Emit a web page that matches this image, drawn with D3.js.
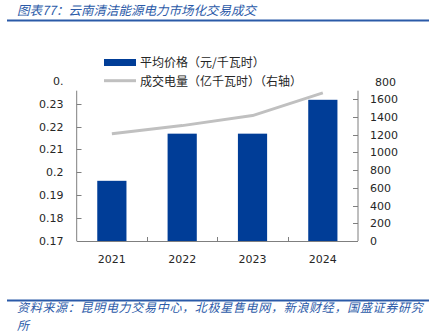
<!DOCTYPE html>
<html><head><meta charset="utf-8">
<script src="https://cdn.jsdelivr.net/npm/d3@7"></script>
<style>body{margin:0;background:#fff}svg{display:block}</style>
</head><body>
<svg id="c" width="429" height="333"></svg>
<script>
const categories = ["2021","2022","2023","2024"];
const avgPrice = [0.1963, 0.2169, 0.2169, 0.2317];
const volume = [1212, 1303, 1416, 1672];
const leftTicks = [0.17,0.18,0.19,0.2,0.21,0.22,0.23,0.24];
const leftTickLabels = ["0.17","0.18","0.19","0.2","0.21","0.22","0.23","0."];
const rightTicks = [0,200,400,600,800,1000,1200,1400,1600,1800];
const rightTickLabels = ["0","200","400","600","800","1000","1200","1400","1600","800"];
const legendLabels = ["平均价格（元/千瓦时）","成交电量（亿千瓦时）（右轴）"];
const titleText = "图表77：云南清洁能源电力市场化交易成交";
const sourceLines = ["资料来源：昆明电力交易中心，北极星售电网，新浪财经，国盛证券研究","所"];

const svg = d3.select("#c");
const blue = "#003d97", grey = "#c0c0c0", axisCol = "#7f7f7f", textCol = "#262626";
const titleBlue = "#2b5aa8";
const numFont = "'DejaVu Sans', Verdana, sans-serif";
const cjk = "'Noto Sans CJK SC', sans-serif";

// title
svg.append("text").attr("x",17).attr("y",14.5).attr("font-family",cjk).attr("font-style","italic")
  .attr("font-size",12.5).attr("fill",titleBlue).text(titleText);
svg.append("line").attr("x1",7).attr("x2",429).attr("y1",20.5).attr("y2",20.5)
  .attr("stroke",titleBlue).attr("stroke-width",2);

const xOuter = d3.scaleBand().domain(categories).range([76.7,358]);
const yL = d3.scaleLinear().domain([0.17,0.24]).range([241,80.8]);
const yR = d3.scaleLinear().domain([0,1800]).range([241,81.6]);
const axisTop = 90.7;

// bars
svg.append("g").selectAll("rect").data(categories).join("rect")
  .attr("x",d=>xOuter(d)+xOuter.bandwidth()/2-14.6).attr("width",29.2)
  .attr("y",(d,i)=>yL(avgPrice[i])).attr("height",(d,i)=>241-yL(avgPrice[i]))
  .attr("fill",blue);

// line
const line = d3.line().x((d,i)=>xOuter(categories[i])+xOuter.bandwidth()/2).y(d=>yR(d));
svg.append("path").datum(volume).attr("d",line).attr("fill","none")
  .attr("stroke",grey).attr("stroke-width",3).attr("stroke-linejoin","round");

// left axis
const gl = svg.append("g");
gl.append("line").attr("x1",76.7).attr("x2",76.7).attr("y1",axisTop).attr("y2",241).attr("stroke",axisCol);
gl.selectAll("line.t").data(leftTicks.filter(t=>t>0.17 && t<0.235)).join("line").attr("class","t")
  .attr("x1",76.7).attr("x2",81.5).attr("y1",d=>Math.round(yL(d))+0.5).attr("y2",d=>Math.round(yL(d))+0.5).attr("stroke",axisCol);
gl.selectAll("text").data(leftTicks).join("text")
  .attr("x",63.5).attr("y",d=>yL(d)+4).attr("text-anchor","end")
  .attr("font-family",numFont).attr("font-size",11).attr("fill",textCol)
  .text((d,i)=>leftTickLabels[i]);

// right axis
const gr = svg.append("g");
gr.append("line").attr("x1",358).attr("x2",358).attr("y1",axisTop).attr("y2",241).attr("stroke",axisCol);
gr.selectAll("line.t").data(rightTicks.filter(t=>t>0 && t<1700)).join("line").attr("class","t")
  .attr("x1",353).attr("x2",358).attr("y1",d=>Math.round(yR(d))+0.5).attr("y2",d=>Math.round(yR(d))+0.5).attr("stroke",axisCol);
gr.selectAll("text").data(rightTicks).join("text")
  .attr("x",(d,i)=>i===rightTicks.length-1?375:370).attr("y",d=>yR(d)+4).attr("text-anchor","start")
  .attr("font-family",numFont).attr("font-size",11).attr("fill",textCol)
  .text((d,i)=>rightTickLabels[i]);

// x axis
const gx = svg.append("g");
gx.append("line").attr("x1",76.7).attr("x2",358).attr("y1",241.5).attr("y2",241.5).attr("stroke",axisCol);
gx.selectAll("line.t").data(categories.slice(1)).join("line").attr("class","t")
  .attr("x1",d=>Math.round(xOuter(d))+0.5).attr("x2",d=>Math.round(xOuter(d))+0.5)
  .attr("y1",237).attr("y2",241.5).attr("stroke",axisCol);
gx.selectAll("text").data(categories).join("text")
  .attr("x",d=>xOuter(d)+xOuter.bandwidth()/2).attr("y",263).attr("text-anchor","middle")
  .attr("font-family",numFont).attr("font-size",11).attr("fill",textCol).text(d=>d);

// legend
const lg = svg.append("g");
lg.append("rect").attr("x",104).attr("y",59).attr("width",32).attr("height",7).attr("fill",blue);
lg.append("line").attr("x1",104).attr("x2",136).attr("y1",80.7).attr("y2",80.7).attr("stroke",grey).attr("stroke-width",3);
lg.selectAll("text").data(legendLabels).join("text")
  .attr("x",140).attr("y",(d,i)=>67+i*19).attr("font-family",cjk).attr("font-size",12)
  .attr("fill",textCol).text(d=>d);

// source (wrapped over two lines)
svg.append("line").attr("x1",7).attr("x2",429).attr("y1",300.5).attr("y2",300.5)
  .attr("stroke",titleBlue).attr("stroke-width",2);
svg.append("text").attr("font-family",cjk).attr("font-style","italic")
  .attr("font-size",12).attr("letter-spacing",0.7).attr("fill",titleBlue)
  .selectAll("tspan").data(sourceLines).join("tspan")
  .attr("x",17).attr("y",(d,i)=>312+i*18).text(d=>d);
</script>
</body></html>
